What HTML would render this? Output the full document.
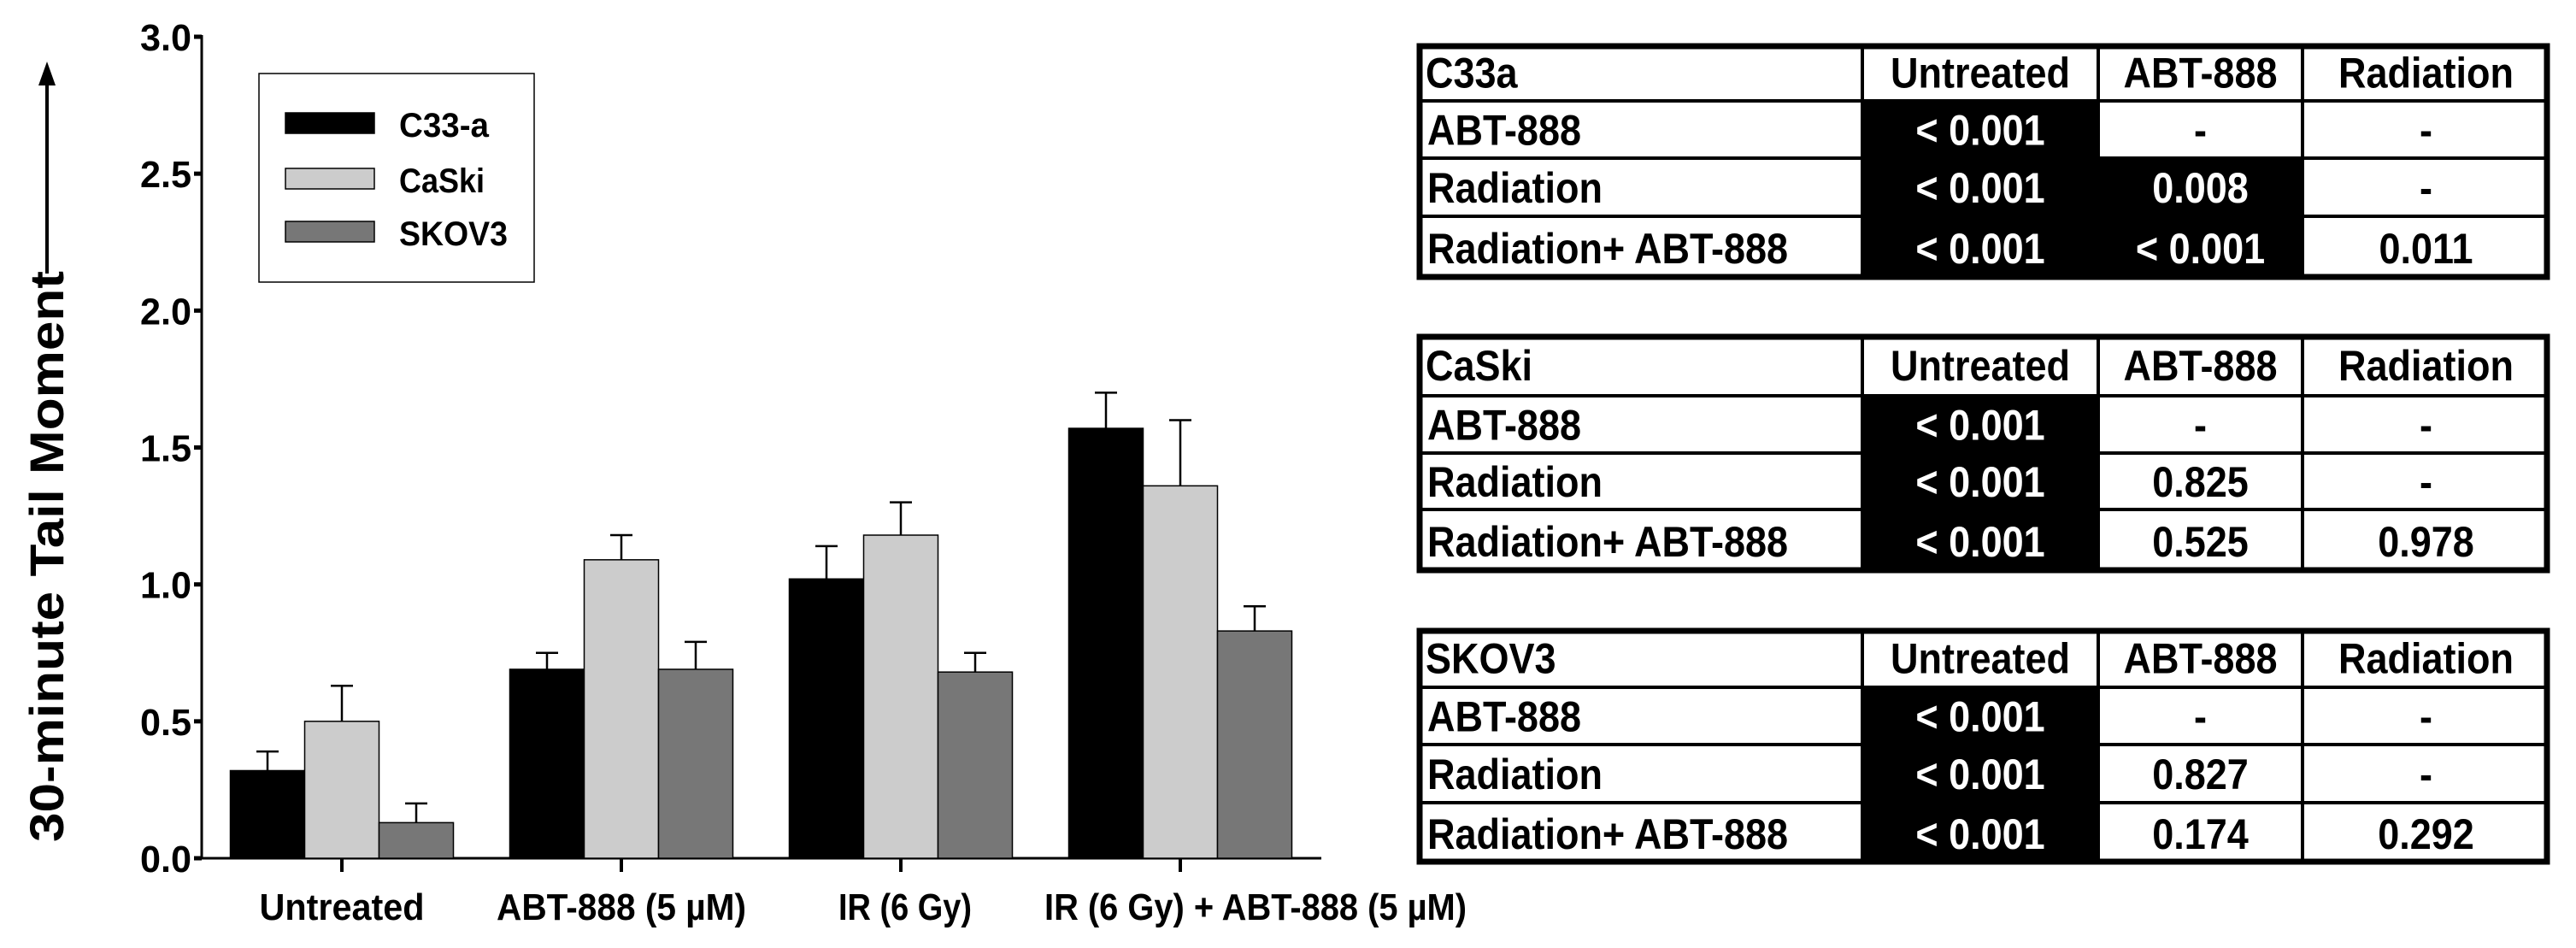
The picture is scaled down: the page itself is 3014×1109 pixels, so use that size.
<!DOCTYPE html>
<html><head><meta charset="utf-8"><style>
html,body{margin:0;padding:0;background:#fff;}
svg{display:block;}
text{font-family:"Liberation Sans",sans-serif;font-weight:bold;}
</style></head><body>
<svg id="fig" width="3014" height="1109" viewBox="0 0 3014 1109" xmlns="http://www.w3.org/2000/svg">
<g id="chart"></g>
<g id="tables"></g>
</svg>
<script>
const categories = ["Untreated", "ABT-888 (5 \u00b5M)", "IR (6 Gy)", "IR (6 Gy) + ABT-888 (5 \u00b5M)"];
const seriesNames = ["C33-a", "CaSki", "SKOV3"];
const c33aValues = [0.32, 0.69, 1.02, 1.57];
const caskiValues = [0.50, 1.09, 1.18, 1.36];
const skov3Values = [0.13, 0.69, 0.68, 0.83];
const c33aErrTop = [0.39, 0.75, 1.14, 1.70];
const caskiErrTop = [0.63, 1.18, 1.30, 1.60];
const skov3ErrTop = [0.20, 0.79, 0.75, 0.92];
const yTicks = ["0.0", "0.5", "1.0", "1.5", "2.0", "2.5", "3.0"];

const NS = "http://www.w3.org/2000/svg";
function mk(tag, attrs, parent, txt) {
  const e = document.createElementNS(NS, tag);
  for (const k in attrs) e.setAttribute(k, attrs[k]);
  if (txt !== undefined) e.textContent = txt;
  parent.appendChild(e);
  return e;
}
const chart = document.getElementById('chart');
const y0 = 1004, y3 = 43, yMax = 3;
const yS = v => y0 - (v / yMax) * (y0 - y3);
const axisX = 236, axisEnd = 1546;
const groupStart = 400, groupStep = 327, barW = 87;
const gx = i => groupStart + i * groupStep;
const colors = ["#000000", "#cccccc", "#777777"];
const vals = [c33aValues, caskiValues, skov3Values];
const errs = [c33aErrTop, caskiErrTop, skov3ErrTop];
const labelWidths = [193, 292, 156, 494];
const labelCenters = [400, 727, 1059, 1469];

let el = mk('line', {x1: axisX, y1: y3 - 2, x2: axisX, y2: y0 + 1, stroke: '#000', 'stroke-width': 3}, chart);


el = mk('line', {x1: axisX, y1: y0, x2: axisEnd, y2: y0, stroke: '#000', 'stroke-width': 3}, chart);


yTicks.forEach(t => {
  const y = yS(parseFloat(t));
  const tk = mk('line', {x1: axisX - 9, y1: y, x2: axisX, y2: y, stroke: '#000', 'stroke-width': 5}, chart);
  
  
  const lb = mk('text', {x: 224, y: y + 16, 'font-size': 44, 'text-anchor': 'end', textLength: 60, lengthAdjust: 'spacingAndGlyphs'}, chart, t);
  
  
});
const yt = mk('text', {x: 0, y: 0, 'font-size': 56, 'font-family': 'DejaVu Sans, sans-serif', transform: 'translate(74,985) rotate(-90)', textLength: 668, lengthAdjust: 'spacingAndGlyphs'}, chart, '30-minute Tail Moment');


el = mk('line', {x1: 55, y1: 320, x2: 55, y2: 95, stroke: '#000', 'stroke-width': 4}, chart);


el = mk('path', {d: 'M45,100 L55,72 L65,100 Z', fill: '#000'}, chart);



categories.forEach((c, i) => {
  const cx = gx(i);
  const tk = mk('line', {x1: cx, y1: y0, x2: cx, y2: y0 + 16, stroke: '#000', 'stroke-width': 4}, chart);
  
  
  const lb = mk('text', {x: labelCenters[i], y: 1076, 'font-size': 44, 'text-anchor': 'middle', textLength: labelWidths[i], lengthAdjust: 'spacingAndGlyphs'}, chart, c);
  
  
  for (let s = 0; s < 3; s++) {
    const x = cx - 1.5 * barW + s * barW;
    const v = vals[s][i], e = errs[s][i];
    const ex = x + barW / 2;
    const ln = mk('line', {x1: ex, y1: yS(v), x2: ex, y2: yS(e), stroke: '#000', 'stroke-width': 2.5}, chart);
    
    
    const cap = mk('line', {x1: ex - 13, y1: yS(e), x2: ex + 13, y2: yS(e), stroke: '#000', 'stroke-width': 2.5}, chart);
    
    
    const r = mk('rect', {x: x, y: yS(v), width: barW, height: y0 - yS(v), fill: colors[s], stroke: '#000', 'stroke-width': 1.5}, chart);
    
    
  }
});

const lg = mk('g', {}, chart);


mk('rect', {x: 303, y: 86, width: 322, height: 244, fill: '#fff', stroke: '#000', 'stroke-width': 1.5}, lg);
const legW = [105, 100, 127];
const legY = [132, 197, 259];
seriesNames.forEach((n, s) => {
  const y = legY[s];
  const sw = mk('rect', {x: 334, y: y, width: 104, height: 24, fill: colors[s], stroke: '#000', 'stroke-width': 1.5}, lg);
  
  
  const t = mk('text', {x: 467, y: y + 28, 'font-size': 40, textLength: legW[s], lengthAdjust: 'spacingAndGlyphs'}, lg, n);
  
  
});

const tables = document.getElementById('tables');
const tableTitles = ["C33a", "CaSki", "SKOV3"];
const colHeads = ["Untreated", "ABT-888", "Radiation"];
const rowHeads = ["ABT-888", "Radiation", "Radiation+ ABT-888"];
const c33aP = [["< 0.001", "-", "-"], ["< 0.001", "0.008", "-"], ["< 0.001", "< 0.001", "0.011"]];
const caskiP = [["< 0.001", "-", "-"], ["< 0.001", "0.825", "-"], ["< 0.001", "0.525", "0.978"]];
const skov3P = [["< 0.001", "-", "-"], ["< 0.001", "0.827", "-"], ["< 0.001", "0.174", "0.292"]];
const pData = [c33aP, caskiP, skov3P];
const cols = [1658, 2179, 2455, 2694, 2983];
const tableRows = [[51, 118, 185, 253, 327], [391, 463, 530, 596, 670], [735, 804, 871, 939, 1011]];
tableTitles.forEach((tt, k) => {
  const g = mk('g', {}, tables);
  
  
  const R = tableRows[k];
  mk('rect', {x: cols[0], y: R[0], width: cols[4] - cols[0], height: R[4] - R[0], fill: '#fff'}, g);
  for (let r = 0; r < 3; r++) for (let c = 0; c < 3; c++) {
    const black = c === 0 || (k === 0 && c === 1 && r >= 1);
    if (black) {
      const bc = mk('rect', {x: cols[c + 1], y: R[r + 1], width: cols[c + 2] - cols[c + 1], height: R[r + 2] - R[r + 1], fill: '#000'}, g);
      
      
    }
  }
  for (let i = 1; i < 4; i++) mk('line', {x1: cols[0], y1: R[i], x2: cols[4], y2: R[i], stroke: '#000', 'stroke-width': 4}, g);
  for (let i = 1; i < 4; i++) mk('line', {x1: cols[i], y1: R[0], x2: cols[i], y2: R[4], stroke: '#000', 'stroke-width': 4}, g);
  mk('rect', {x: cols[0] + 3, y: R[0] + 3, width: cols[4] - cols[0] - 6, height: R[4] - R[0] - 6, fill: 'none', stroke: '#000', 'stroke-width': 7}, g);
  const tl = mk('text', {x: cols[0] + 10, y: (R[0] + R[1]) / 2 + 18, 'font-size': 50, transform: 'translate(' + (cols[0] + 10) * 0.1 + ',0) scale(0.9,1)'}, g, tt);
  
  
  colHeads.forEach((h, c) => {
    const cx = (cols[c + 1] + cols[c + 2]) / 2;
    const t = mk('text', {x: cx, y: (R[0] + R[1]) / 2 + 18, 'font-size': 50, 'text-anchor': 'middle', transform: 'translate(' + cx * 0.1 + ',0) scale(0.9,1)'}, g, h);
    
    
  });
  rowHeads.forEach((h, r) => {
    const yy = (R[r + 1] + R[r + 2]) / 2 + 18;
    const t = mk('text', {x: cols[0] + 12, y: yy, 'font-size': 50, transform: 'translate(' + (cols[0] + 12) * 0.1 + ',0) scale(0.9,1)'}, g, h);
    
    
    pData[k][r].forEach((v, c) => {
      const black = c === 0 || (k === 0 && c === 1 && r >= 1);
      const cx = (cols[c + 1] + cols[c + 2]) / 2;
      const pv = mk('text', {x: cx, y: yy, 'font-size': 50, 'text-anchor': 'middle', fill: black ? '#fff' : '#000', transform: 'translate(' + cx * 0.1 + ',0) scale(0.9,1)'}, g, v);
      
      
    });
  });
});
</script>
</body></html>
